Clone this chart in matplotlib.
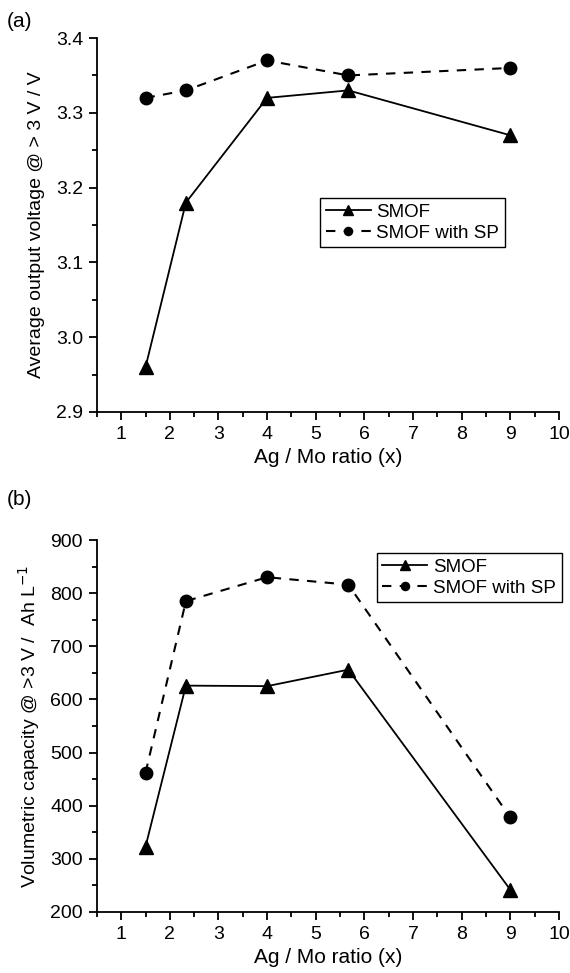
import matplotlib
matplotlib.use("Agg")
import matplotlib.pyplot as plt
from matplotlib.ticker import MultipleLocator

plt.rcParams["font.family"] = ["Liberation Sans", "DejaVu Sans"]
plt.rcParams["font.size"] = 14

# Ag / Mo ratio of the samples
ratio = [1.5, 2.33, 4.0, 5.67, 9.0]

# (a) average output voltage above 3 V
voltage_smof = [2.96, 3.18, 3.32, 3.33, 3.27]
voltage_smof_sp = [3.32, 3.33, 3.37, 3.35, 3.36]

# (b) volumetric capacity above 3 V
capacity_smof = [323, 626, 625, 656, 242]
capacity_smof_sp = [462, 785, 830, 816, 378]

LABELS = ["SMOF", "SMOF with SP"]


def style_axes(ax):
    ax.spines["top"].set_visible(False)
    ax.spines["right"].set_visible(False)
    for s in ("left", "bottom"):
        ax.spines[s].set_linewidth(1.3)
    ax.tick_params(which="major", direction="out", length=6, width=1.3,
                   labelsize=14, pad=4)
    ax.tick_params(which="minor", direction="out", length=3.5, width=1.3)
    ax.set_xlim(0.5, 10)
    ax.xaxis.set_major_locator(MultipleLocator(1))
    ax.xaxis.set_minor_locator(MultipleLocator(0.5))
    ax.set_xlabel("Ag / Mo ratio (x)", fontsize=15, labelpad=4)


def draw_series(ax, y1, y2):
    ax.plot(ratio, y1, color="black", lw=1.3, marker="^", ms=10,
            label=LABELS[0], clip_on=False)
    ax.plot(ratio, y2, color="black", lw=1.5, marker="o", ms=9,
            dashes=(4.5, 4), label=LABELS[1], clip_on=False)


def add_legend(ax, anchor):
    leg = ax.legend(loc="upper left", bbox_to_anchor=anchor,
                    borderaxespad=0, fancybox=False, framealpha=1,
                    edgecolor="black", fontsize=13.5, handlelength=2.4,
                    handletextpad=0.3, labelspacing=0.2, borderpad=0.3,
                    markerscale=0.65)
    leg.get_frame().set_linewidth(1.0)
    return leg


fig = plt.figure(figsize=(5.7, 9.73), dpi=100)
ax1 = fig.add_axes([0.170, 0.5766, 0.8105, 0.3843])
ax2 = fig.add_axes([0.170, 0.0627, 0.8105, 0.3823])

draw_series(ax1, voltage_smof, voltage_smof_sp)
style_axes(ax1)
ax1.set_ylim(2.9, 3.4)
ax1.yaxis.set_major_locator(MultipleLocator(0.1))
ax1.yaxis.set_minor_locator(MultipleLocator(0.05))
ax1.set_ylabel("Average output voltage @ > 3 V / V", fontsize=14,
               labelpad=8)
add_legend(ax1, (0.483, 0.572))

draw_series(ax2, capacity_smof, capacity_smof_sp)
style_axes(ax2)
ax2.set_ylim(200, 900)
ax2.yaxis.set_major_locator(MultipleLocator(100))
ax2.yaxis.set_minor_locator(MultipleLocator(50))
ax2.set_ylabel("Volumetric capacity @ >3 V /  Ah L$^{-1}$", fontsize=14,
               labelpad=6)
add_legend(ax2, (0.606, 0.965))

fig.text(0.012, 0.978, "(a)", fontsize=15, va="center")
fig.text(0.012, 0.487, "(b)", fontsize=15, va="center")

fig.savefig("out.png", dpi=100)
